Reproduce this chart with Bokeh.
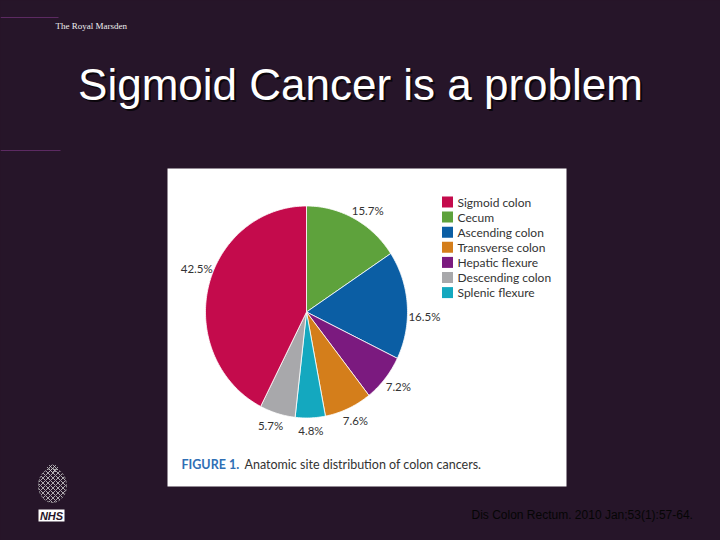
import math
from bokeh.plotting import figure
from bokeh.models import Range1d, ColumnDataSource, GlobalInlineStyleSheet
from bokeh.core.properties import value
from bokeh.embed import file_html
from bokeh.resources import INLINE

# ---------------- data ----------------
TITLE = "Sigmoid Cancer is a problem"
HEADER = "The Royal Marsden"
CITATION = "Dis Colon Rectum. 2010 Jan;53(1):57-64."
CAPTION_HEAD = "FIGURE 1."
CAPTION_TEXT = "Anatomic site distribution of colon cancers."

# slices, clockwise from 12 o'clock
pie_sites = ["Cecum", "Ascending colon", "Hepatic flexure", "Transverse colon",
             "Splenic flexure", "Descending colon", "Sigmoid colon"]
pie_values = [15.7, 16.5, 7.2, 7.6, 4.8, 5.7, 42.5]

legend_sites = ["Sigmoid colon", "Cecum", "Ascending colon", "Transverse colon",
                "Hepatic flexure", "Descending colon", "Splenic flexure"]

site_colors = {
    "Sigmoid colon": "#c40b4c",
    "Cecum": "#5ea23c",
    "Ascending colon": "#0b5ea4",
    "Transverse colon": "#d47e1b",
    "Hepatic flexure": "#7b1a7f",
    "Descending colon": "#a8a8ab",
    "Splenic flexure": "#14a8bf",
}

# ---------------- style / layout ----------------
BG = "#261529"
TEXT_DARK = "#333333"
PANEL = dict(left=167, right=566, top=168, bottom=486)
CX, CY, RX, RY = 306, 311.5, 101, 106
LABEL_PAD_X, LABEL_PAD_Y = 17, 13
label_nudge_deg = [3, 6, 0, 0, 0, 1, 8]   # small angular nudges for label placement

p = figure(width=720, height=540, x_range=Range1d(0, 720), y_range=Range1d(540, 0),
           x_axis_type=None, y_axis_type=None, output_backend="svg",
           toolbar_location=None, min_border=0,
           background_fill_color=BG, border_fill_color=BG, outline_line_color=None)
p.grid.visible = False
p.stylesheets = [GlobalInlineStyleSheet(css=f"html, body {{ background: {BG}; overflow: hidden; }}")]

# header decorations
p.segment(x0=[0, 0], y0=[17, 150], x1=[58, 60], y1=[17, 150],
          line_color="#5c2a62", line_width=1)
p.text(x=[55], y=[25], text=[HEADER], text_font=value("Liberation Serif"),
       text_font_size="9px", text_color="#f0f0f0", text_baseline="middle")

# title with shadow
p.text(x=[362], y=[86], text=[TITLE], text_font=value("Liberation Sans"),
       text_font_size="44px", text_color="#000000", text_alpha=0.7,
       text_align="center", text_baseline="alphabetic")
p.text(x=[360], y=[84], text=[TITLE], text_font=value("Liberation Sans"),
       text_font_size="44px", text_color="#ffffff",
       text_align="center", text_baseline="alphabetic")

# white panel
p.quad(left=[PANEL["left"]], right=[PANEL["right"]], top=[PANEL["top"]],
       bottom=[PANEL["bottom"]], fill_color="white", line_color=None)

# pie slices
total = sum(pie_values)
xs, ys, cols, lx, ly, ltxt = [], [], [], [], [], []
acc = 0.0
for i, (site, v) in enumerate(zip(pie_sites, pie_values)):
    a0 = acc / total * 2 * math.pi
    acc += v
    a1 = acc / total * 2 * math.pi
    n = max(4, int((a1 - a0) / (math.pi / 180)))
    px = [CX]
    py = [CY]
    for k in range(n + 1):
        a = a0 + (a1 - a0) * k / n
        px.append(CX + RX * math.sin(a))
        py.append(CY - RY * math.cos(a))
    xs.append(px)
    ys.append(py)
    cols.append(site_colors[site])
    am = (a0 + a1) / 2 + math.radians(label_nudge_deg[i])
    lx.append(CX + (RX + LABEL_PAD_X) * math.sin(am))
    ly.append(CY - (RY + LABEL_PAD_Y) * math.cos(am))
    ltxt.append(f"{v:.1f}%")

p.patches(xs=xs, ys=ys, fill_color=cols, line_color="white", line_width=0.8)
p.text(x=lx, y=ly, text=ltxt, text_font=value("Lato"), text_font_size="11.5px",
       text_color=TEXT_DARK, text_align="center", text_baseline="middle")

# legend
leg_x, leg_y0, leg_dy, sq = 447, 201.5, 15.1, 11
leg_src = ColumnDataSource(dict(
    x=[leg_x] * len(legend_sites),
    y=[leg_y0 + i * leg_dy for i in range(len(legend_sites))],
    tx=[leg_x + 10] * len(legend_sites),
    label=legend_sites,
    color=[site_colors[s] for s in legend_sites],
))
p.rect(x="x", y="y", width=sq, height=sq, fill_color="color", line_color=None, source=leg_src)
p.text(x="tx", y="y", text="label", text_font=value("Lato"), text_font_size="12px",
       text_color=TEXT_DARK, text_baseline="middle", source=leg_src)

# caption
p.text(x=[181], y=[464], text=[CAPTION_HEAD], text_font=value("Lato"),
       text_font_size="12.5px", text_font_style="bold", text_color="#2f6fb5",
       text_baseline="middle")
p.text(x=[244], y=[464], text=[CAPTION_TEXT], text_font=value("Lato"),
       text_font_size="12.5px", text_color=TEXT_DARK, text_baseline="middle")

# citation
p.text(x=[471], y=[514], text=[CITATION], text_font=value("Liberation Sans"),
       text_font_size="12px", text_color="#050505", text_baseline="middle")

# NHS crest + logo
p.ellipse(x=[52], y=[485], width=28, height=34, fill_color=None,
          hatch_pattern="x", hatch_color="#cfcfcf", hatch_scale=5, hatch_weight=1,
          hatch_alpha=0.8, line_color="#aaaaaa", line_width=0.8, line_dash="2 2")
p.ellipse(x=[52], y=[468], width=12, height=8, fill_color=None,
          hatch_pattern="x", hatch_color="#cfcfcf", hatch_scale=4, hatch_alpha=0.8,
          line_color=None)
p.quad(left=[38], right=[64], top=[509], bottom=[521], fill_color="white", line_color=None)
p.text(x=[51], y=[515.5], text=["NHS"], text_font=value("Liberation Sans"),
       text_font_size="11px", text_font_style="bold italic", text_color=BG,
       text_align="center", text_baseline="middle")

open("out.html", "w").write(file_html(p, INLINE))
